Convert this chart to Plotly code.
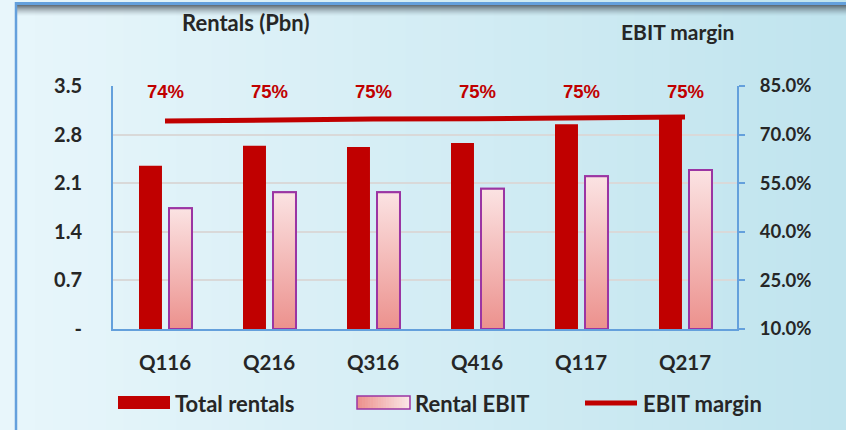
import plotly.graph_objects as go

# ---------------- data ----------------
categories = ["Q116", "Q216", "Q316", "Q416", "Q117", "Q217"]
total_rentals = [2.35, 2.64, 2.62, 2.68, 2.95, 3.08]
rental_ebit = [1.74, 1.97, 1.97, 2.02, 2.20, 2.29]
ebit_margin = [74.2, 74.6, 74.8, 74.9, 75.2, 75.4]
left_ticks = [0, 0.7, 1.4, 2.1, 2.8, 3.5]
left_ticktext = ["-", "0.7", "1.4", "2.1", "2.8", "3.5"]
right_ticks = [10, 25, 40, 55, 70, 85]
right_ticktext = [f"{v:.1f}%" for v in right_ticks]

# ---------------- style ----------------
W, H = 846, 430
L, R, T, B = 113, 737, 86, 329
RED = "#c00000"
PURPLE = "#9b35a3"
BLUE = "#64a0dc"
TXT = "#262626"
FONT = "Lato"
PINK_DARK = "#ec918d"
PINK_LIGHT = "#fbe3e3"


def px(x):
    return (x - L) / (R - L)


def py(y):
    return (B - y) / (B - T)


idx = list(range(len(categories)))
BW = 0.221
OFF_RED = -0.25
OFF_PINK = 0.0385

fig = go.Figure()

fig.add_trace(go.Bar(x=idx, y=total_rentals, width=BW, offset=OFF_RED,
                     marker=dict(color=RED, line=dict(width=0)),
                     name="Total rentals", showlegend=False))
fig.add_trace(go.Bar(x=idx, y=rental_ebit, width=BW, offset=OFF_PINK,
                     marker=dict(color="#f3b8b6", line=dict(color=PURPLE, width=2)),
                     name="Rental EBIT", showlegend=False))

# gradient overlay of the Rental EBIT bars
for i, v in zip(idx, rental_ebit):
    x0 = i + OFF_PINK
    x1 = x0 + BW
    fig.add_trace(go.Scatter(
        x=[x0, x1, x1, x0, x0], y=[0, 0, v, v, 0], mode="lines",
        fill="toself",
        fillgradient=dict(type="vertical", start=0, stop=v,
                          colorscale=[[0, PINK_DARK], [1, PINK_LIGHT]]),
        line=dict(color=PURPLE, width=2), hoverinfo="skip", showlegend=False))

fig.add_trace(go.Scatter(x=idx, y=ebit_margin, yaxis="y2", mode="lines",
                         line=dict(color=RED, width=5), name="EBIT margin",
                         showlegend=False))

# data labels
for i, v in zip(idx, ebit_margin):
    fig.add_annotation(x=i, y=83.4, xref="x", yref="y2", text=f"{round(v)}%",
                       showarrow=False, yanchor="middle",
                       font=dict(family="Liberation Sans", size=18.5, color=RED, weight="bold"))

shapes = []
# background gradient
N = 48
c0 = (232, 246, 251)
c1 = (192, 228, 238)
for k in range(N):
    t = k / (N - 1)
    col = "rgb(%d,%d,%d)" % tuple(round(a + (b - a) * t) for a, b in zip(c0, c1))
    shapes.append(dict(type="rect", xref="paper", yref="paper", layer="below",
                       x0=px(k * W / N), x1=px((k + 1) * W / N + 1),
                       y0=py(H), y1=py(0), line=dict(width=0), fillcolor=col))
# top shadow
for k in range(11):
    a = 0.8 * (1 - k / 11) ** 1.5
    shapes.append(dict(type="rect", xref="paper", yref="paper", layer="below",
                       x0=px(17), x1=px(W), y0=py(5 + k + 1), y1=py(5 + k),
                       line=dict(width=0), fillcolor=f"rgba(70,80,90,{a:.3f})"))
# frame lines
shapes.append(dict(type="line", xref="paper", yref="paper", x0=px(16), x1=px(W),
                   y0=py(3.5), y1=py(3.5), line=dict(color=BLUE, width=3)))
shapes.append(dict(type="line", xref="paper", yref="paper", x0=px(16), x1=px(16),
                   y0=py(2), y1=py(H), line=dict(color=BLUE, width=2.5)))

# manual legend
LY0, LY1 = 396, 409
shapes.append(dict(type="rect", xref="paper", yref="paper", x0=px(118), x1=px(170),
                   y0=py(LY1), y1=py(LY0), line=dict(width=0), fillcolor=RED))
NS = 20
for k in range(NS):
    t = k / (NS - 1)
    ca = (236, 145, 141)
    cb = (251, 230, 230)
    col = "rgb(%d,%d,%d)" % tuple(round(a + (b - a) * t) for a, b in zip(ca, cb))
    xa = 357 + k * (53 / NS)
    shapes.append(dict(type="rect", xref="paper", yref="paper", x0=px(xa), x1=px(xa + 53 / NS + 0.6),
                       y0=py(LY1), y1=py(LY0), line=dict(width=0), fillcolor=col))
shapes.append(dict(type="rect", xref="paper", yref="paper", x0=px(357), x1=px(410),
                   y0=py(LY1), y1=py(LY0), line=dict(color=PURPLE, width=1.5)))
shapes.append(dict(type="line", xref="paper", yref="paper", x0=px(585), x1=px(637),
                   y0=py(403), y1=py(403), line=dict(color=RED, width=5)))

legend_items = [(173, "Total rentals"), (413, "Rental EBIT"), (641, "EBIT margin")]
for x, txt in legend_items:
    fig.add_annotation(x=px(x), y=py(403), xref="paper", yref="paper", text=txt,
                       xanchor="left", yanchor="middle", showarrow=False,
                       font=dict(family=FONT, size=22, color=TXT, weight="bold"))

# axis titles
fig.add_annotation(x=px(245), y=py(22), xref="paper", yref="paper", text="Rentals (Pbn)",
                   showarrow=False, xanchor="center", yanchor="middle",
                   font=dict(family=FONT, size=22, color=TXT, weight="bold"))
fig.add_annotation(x=px(677), y=py(31), xref="paper", yref="paper", text="EBIT margin",
                   showarrow=False, xanchor="center", yanchor="middle",
                   font=dict(family=FONT, size=21, color=TXT, weight="bold"))

fig.update_layout(
    width=W, height=H,
    margin=dict(l=L, r=W - R, t=T, b=H - B, pad=0),
    paper_bgcolor="#e2f3f9", plot_bgcolor="rgba(0,0,0,0)",
    barmode="overlay",
    shapes=shapes,
    showlegend=False,
    xaxis=dict(range=[-0.5, 5.5], tickvals=idx, ticktext=categories,
               showgrid=False, zeroline=False, showline=True, linecolor=BLUE, linewidth=2,
               ticks="", ticklabelstandoff=14,
               tickfont=dict(family=FONT, size=20.5, color=TXT, weight="bold")),
    yaxis=dict(range=[0, 3.5], tickvals=left_ticks, ticktext=left_ticktext,
               showgrid=True, gridcolor="#d9d9d9", gridwidth=2, zeroline=False,
               showline=True, linecolor=BLUE, linewidth=2, ticks="",
               ticklabelstandoff=25,
               tickfont=dict(family=FONT, size=20, color=TXT, weight="bold")),
    yaxis2=dict(range=[10, 85], tickvals=right_ticks, ticktext=right_ticktext,
                overlaying="y", side="right",
                showgrid=False, zeroline=False,
                showline=True, linecolor=BLUE, linewidth=2, ticks="outside",
                ticklen=6, tickwidth=2, tickcolor=BLUE, ticklabelstandoff=11,
                tickfont=dict(family=FONT, size=18.5, color=TXT, weight="bold")),
)

fig.write_html("out.html", config={"displayModeBar": False},
               post_script="document.body.style.margin='0';document.body.style.overflow='hidden';")
